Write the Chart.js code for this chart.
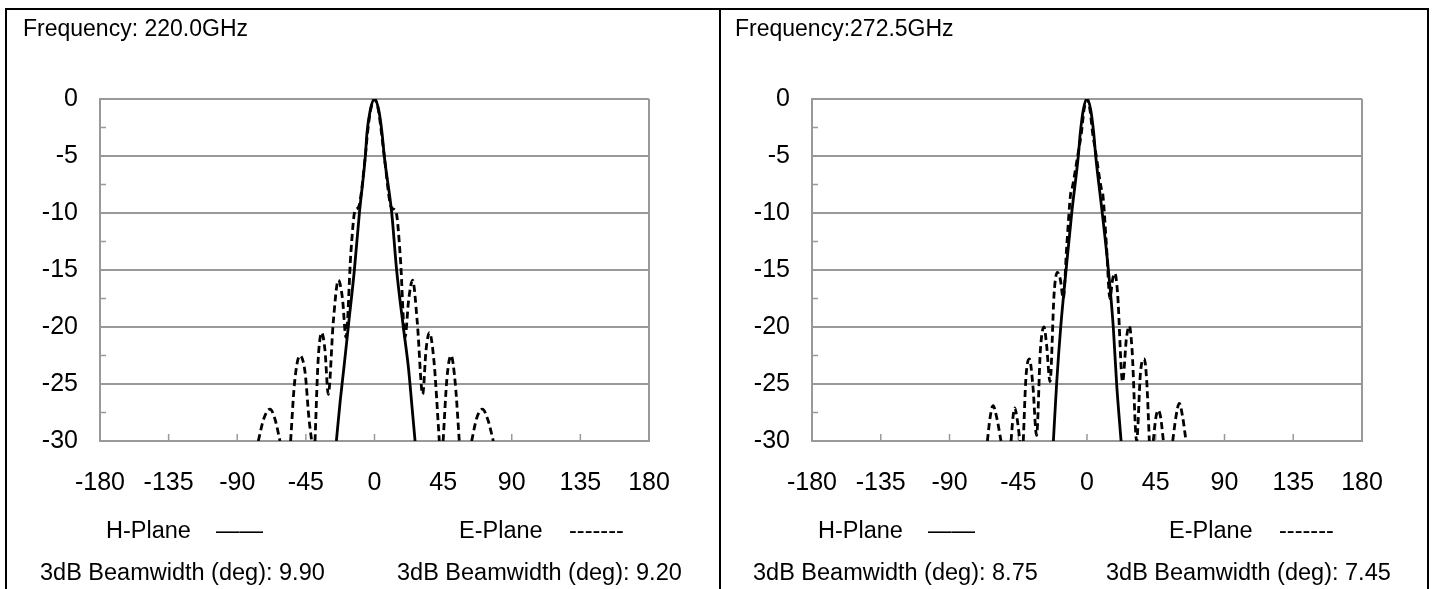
<!DOCTYPE html>
<html>
<head>
<meta charset="UTF-8">
<title>Beam patterns</title>
<script src="https://cdn.jsdelivr.net/npm/chart.js@4.4.1/dist/chart.umd.min.js"></script>
<style>
  body { margin: 0; background: #fff; font-family: "Liberation Sans", Arial, sans-serif; }
  .frame { position: absolute; left: 5px; top: 8px; width: 1420px; height: 600px; border: 2px solid #000; }
  .divider { position: absolute; left: 719px; top: 8px; width: 2px; height: 602px; background: #000; }
  canvas { position: absolute; top: 10px; }
  .txt { position: absolute; font-size: 23.5px; line-height: 24px; color: #000; white-space: pre; }
</style>
</head>
<body>
<div class="frame"></div>
<div class="divider"></div>
<canvas id="plot220" width="712" height="579" style="left:7px"></canvas>
<canvas id="plot272" width="706" height="579" style="left:721px"></canvas>

<div class="txt" style="left:106px; top:518px">H-Plane</div>
<div class="txt" style="left:216px; top:518px">——</div>
<div class="txt" style="left:459px; top:518px">E-Plane</div>
<div class="txt" style="left:569px; top:518px">-------</div>
<div class="txt" style="left:40px; top:560px">3dB Beamwidth (deg): 9.90</div>
<div class="txt" style="left:397px; top:560px">3dB Beamwidth (deg): 9.20</div>

<div class="txt" style="left:818px; top:518px">H-Plane</div>
<div class="txt" style="left:928px; top:518px">——</div>
<div class="txt" style="left:1169px; top:518px">E-Plane</div>
<div class="txt" style="left:1279px; top:518px">-------</div>
<div class="txt" style="left:753px; top:560px">3dB Beamwidth (deg): 8.75</div>
<div class="txt" style="left:1106px; top:560px">3dB Beamwidth (deg): 7.45</div>

<script>
// axis ticks
var xTicks = [-180, -135, -90, -45, 0, 45, 90, 135, 180];
var yTicks = [0, -5, -10, -15, -20, -25, -30];
var yMinor = [-2.5, -7.5, -12.5, -17.5, -22.5, -27.5];

// 220.0 GHz, H-plane (solid)
var h220Angle = [-25, -22.5, -20, -17.2, -13.2, -9.9, -6, -4.95, -2.8, 0, 2.8, 4.95, 6.4, 11.3, 14.5, 18.9, 22.2, 24.6, 26.6];
var h220Gain  = [-30, -26.5, -23.5, -20, -15, -10, -5, -3, -1, 0, -1, -3, -5, -10, -15, -20, -23.5, -27, -30];

// 220.0 GHz, E-plane (dashed), null = gap below -30
var e220Angle = [-76.2, -72.5, -68.5, -65, -62, -58,
  -55, -52.5, -48.9, -45.5, -43, -41.2, -40,
  -39, -37, -34.6, -32.5, -30.3, -27, -23.7, -21, -18.7, -15.5, -12.8, -10.5, -6, -4.6, -2.6, 0,
  2.6, 4.6, 6.4, 11, 14.1, 17, 20, 22.5, 25, 28, 31.6, 33.8, 36, 39, 42.5, 43.5,
  45, 47.5, 50.2, 53, 55.6, 60,
  63.7, 67, 70.7, 74.5, 77.9];
var e220Gain  = [-30, -28, -27.2, -28.2, -30, null,
  -30, -25, -22.5, -24, -28, -30, null,
  -30, -23, -20.5, -22, -25.9, -19.5, -15.9, -17.5, -20.9, -13.5, -9.8, -9.5, -5, -3, -1, 0,
  -1, -3, -5, -9.5, -9.9, -14, -20.9, -17.5, -15.9, -19.5, -25.9, -22, -20.5, -23, -30, null,
  -30, -24.5, -22.5, -25, -30, null,
  -30, -28, -27.2, -28.2, -30];

// 272.5 GHz, H-plane (solid)
var h272Angle = [-22, -19.9, -17.2, -13.7, -10, -5.7, -4.4, -2.5, 0, 2.5, 4.4, 5.7, 10, 14, 17.2, 19.4, 22.3];
var h272Gain  = [-30, -25, -20, -15, -10, -5, -3, -1, 0, -1, -3, -5, -10, -15, -20, -25, -30];

// 272.5 GHz, E-plane (dashed)
var e272Angle = [-65.2, -63.5, -61.5, -59, -56.3, -53,
  -49.7, -48.5, -47.3, -45.8, -43.9, -43,
  -41.7, -40, -37.7, -35.5, -33, -30.5, -28.1, -26.5, -24.2, -21.5, -19.4, -17.5, -15.5, -13.3, -10.7, -10, -5.5, -3.7, -2, 0,
  2, 3.7, 5.5, 9.6, 10.3, 12.8, 15, 16.8, 18.3, 20, 23.3, 25.8, 27.7, 29.5, 32.5, 35, 37.5, 39.2, 40.8, 42,
  43.4, 45, 46.7, 48.3, 50, 53,
  56.1, 58.3, 60.4, 62.5, 64.8];
var e272Gain  = [-30, -28, -26.9, -28, -30, null,
  -30, -28, -27.1, -28, -30, null,
  -30, -24.5, -22.8, -25, -29.5, -22, -20, -21.5, -24.8, -17, -15.2, -15.8, -17.5, -13, -8.3, -8, -4.5, -3, -1, 0,
  -1, -3, -4.5, -8, -8.3, -13, -17.5, -15.8, -15.3, -17, -24.8, -21, -19.9, -22, -30, -24, -22.8, -25, -30, null,
  -30, -28, -27.3, -28, -30, null,
  -30, -27.8, -26.7, -27.8, -30];

var gridColor = '#999999';
var fontFamily = "'Liberation Sans', Arial, sans-serif";

function zip(xs, ys) {
    return xs.map(function (x, i) { return { x: x, y: ys[i] }; });
}

var frameTicks = {
    id: 'frameTicks',
    beforeDatasetsDraw: function (chart) {
        var ctx = chart.ctx, a = chart.chartArea, x = chart.scales.x, y = chart.scales.y;
        ctx.save();
        ctx.strokeStyle = gridColor;
        ctx.lineWidth = 2;
        ctx.beginPath();
        ctx.moveTo(a.right, a.top);
        ctx.lineTo(a.right, a.bottom);
        ctx.stroke();
        ctx.lineWidth = 1.5;
        ctx.beginPath();
        xTicks.forEach(function (v) {
            var px = x.getPixelForValue(v);
            ctx.moveTo(px, a.bottom);
            ctx.lineTo(px, a.bottom - 7);
        });
        yMinor.forEach(function (v) {
            var py = y.getPixelForValue(v);
            ctx.moveTo(a.left, py);
            ctx.lineTo(a.left + 6, py);
        });
        ctx.stroke();
        ctx.restore();
    }
};

function createPlot(id, title, hA, hG, eA, eG, padLeft, axisWidth, padRight) {
    new Chart(document.getElementById(id), {
        type: 'line',
        data: {
            datasets: [
                { label: 'H-Plane', data: zip(hA, hG), borderColor: '#000', borderWidth: 2.8, pointRadius: 0,
                  cubicInterpolationMode: 'monotone', spanGaps: false },
                { label: 'E-Plane', data: zip(eA, eG), borderColor: '#000', borderWidth: 2.8, borderDash: [7, 4],
                  pointRadius: 0, cubicInterpolationMode: 'monotone', spanGaps: false }
            ]
        },
        options: {
            responsive: false,
            animation: false,
            events: [],
            layout: { padding: { left: padLeft, right: padRight, top: 0, bottom: 88 } },
            plugins: {
                legend: { display: false },
                tooltip: { enabled: false },
                title: {
                    display: true, text: title, align: 'start', color: '#000',
                    font: { family: fontFamily, size: 23, weight: 'normal' },
                    padding: { top: 6, bottom: 55.4 }
                }
            },
            scales: {
                x: {
                    type: 'linear', min: -180, max: 180,
                    afterBuildTicks: function (s) { s.ticks = xTicks.map(function (v) { return { value: v }; }); },
                    afterFit: function (s) { s.height = 60; },
                    grid: { display: false },
                    border: { display: true, color: gridColor, width: 2 },
                    ticks: { color: '#000', font: { family: fontFamily, size: 25 }, padding: 19,
                             maxRotation: 0, autoSkip: false }
                },
                y: {
                    min: -30, max: 0,
                    afterBuildTicks: function (s) { s.ticks = yTicks.map(function (v) { return { value: v }; }); },
                    afterFit: function (s) { s.width = axisWidth; },
                    grid: { color: gridColor, lineWidth: 2, drawTicks: false },
                    border: { display: true, color: gridColor, width: 2 },
                    ticks: { color: '#000', font: { family: fontFamily, size: 25 }, padding: 22 }
                }
            }
        },
        plugins: [frameTicks]
    });
}

createPlot('plot220', 'Frequency: 220.0GHz', h220Angle, h220Gain, e220Angle, e220Gain, 16, 77, 70);
createPlot('plot272', 'Frequency:272.5GHz', h272Angle, h272Gain, e272Angle, e272Gain, 14, 77, 65);
</script>
</body>
</html>
